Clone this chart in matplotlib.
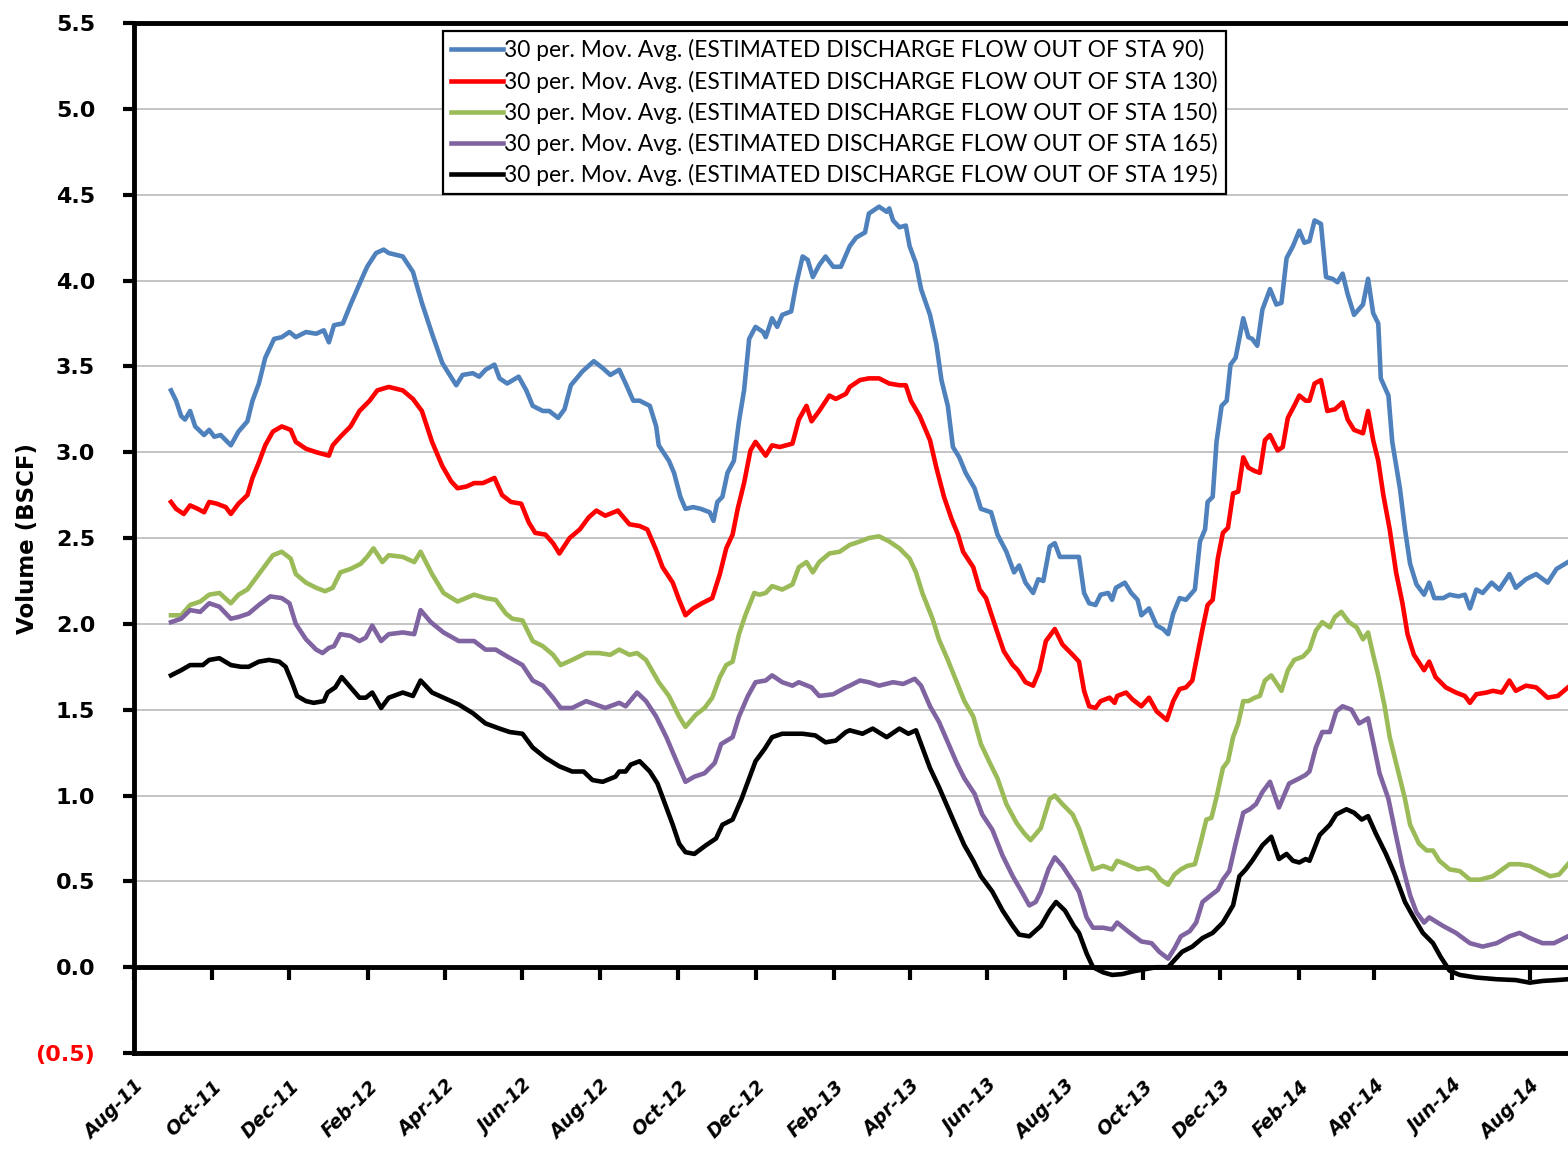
import numpy as np
import matplotlib
matplotlib.use("Agg")
import matplotlib.pyplot as plt
import matplotlib.dates as mdates

# x values are days counted from 1 Aug 2011
start = np.datetime64("2011-08-01")

sta90_days = [29, 33, 37, 40, 44, 48, 55, 59, 63, 68, 76, 82, 89, 93, 98, 103, 110, 116, 122, 127, 135, 143, 149, 153, 157, 164, 170, 177, 183, 190, 196,
              200, 211, 219, 226, 234, 242, 247, 253, 258, 266, 271, 276, 283, 287, 293, 302, 308, 313, 321, 326, 333, 338, 343, 352, 361, 368, 374,
              381, 386, 392, 397, 405, 410, 412, 420, 424, 429, 433, 439, 445, 452, 455, 458, 462, 466, 471, 475, 479, 483, 488, 494, 496, 501, 505, 509, 516, 520, 525, 529, 533, 538, 543, 549, 555,
              562, 567, 574, 577, 585, 591, 593, 596, 601, 606, 609, 614, 618, 625, 630, 634, 639, 643, 648, 653, 660, 665, 673, 678, 685, 691, 695, 700, 706, 710, 714, 719, 723, 727, 735,
              742, 746, 750, 755, 759, 765, 768, 771, 778, 783, 788, 791, 797, 803, 808, 812, 816, 821, 826, 833, 837, 841, 843, 847, 850, 854, 858, 861, 865, 871, 875, 878, 882, 886, 892, 897, 901, 905, 910, 915, 919,
              923, 927, 932, 936, 941, 945, 949, 953, 958, 965, 969, 973, 977, 979, 985, 988, 994, 998, 1002, 1007, 1013, 1017, 1021, 1028, 1033, 1040, 1045, 1049, 1054, 1059, 1066, 1072, 1080, 1085, 1093, 1101, 1110, 1117, 1126]
sta90_vals = [3.36, 3.30, 3.21, 3.19, 3.24, 3.15, 3.10, 3.13, 3.09, 3.10, 3.04, 3.12, 3.18, 3.30, 3.40, 3.55, 3.66, 3.67, 3.70, 3.67, 3.70, 3.69, 3.71, 3.64, 3.74, 3.75, 3.86, 3.98, 4.08, 4.16, 4.18,
              4.16, 4.14, 4.05, 3.87, 3.69, 3.52, 3.46, 3.39, 3.45, 3.46, 3.44, 3.48, 3.51, 3.43, 3.40, 3.44, 3.36, 3.27, 3.24, 3.24, 3.20, 3.25, 3.39, 3.47, 3.53, 3.49, 3.45,
              3.48, 3.40, 3.30, 3.30, 3.27, 3.15, 3.04, 2.95, 2.88, 2.74, 2.67, 2.68, 2.67, 2.65, 2.60, 2.71, 2.74, 2.88, 2.95, 3.18, 3.36, 3.66, 3.73, 3.70, 3.67, 3.78, 3.73, 3.80, 3.82, 3.98, 4.14, 4.12, 4.02, 4.09, 4.14, 4.08, 4.08,
              4.20, 4.25, 4.28, 4.39, 4.43, 4.40, 4.42, 4.35, 4.31, 4.32, 4.20, 4.10, 3.95, 3.80, 3.63, 3.42, 3.27, 3.03, 2.97, 2.88, 2.79, 2.67, 2.65, 2.52, 2.42, 2.30, 2.34, 2.24, 2.18, 2.26, 2.25, 2.45, 2.47, 2.39, 2.39,
              2.39, 2.18, 2.12, 2.11, 2.17, 2.18, 2.14, 2.21, 2.24, 2.18, 2.14, 2.05, 2.09, 1.99, 1.97, 1.94, 2.06, 2.15, 2.14, 2.20, 2.48, 2.55, 2.71, 2.74, 3.06, 3.27, 3.30, 3.51, 3.55, 3.78, 3.67, 3.66, 3.62, 3.83, 3.95, 3.86, 3.87, 4.13, 4.20, 4.29, 4.22,
              4.23, 4.35, 4.33, 4.02, 4.01, 3.99, 4.04, 3.92, 3.80, 3.86, 4.01, 3.81, 3.75, 3.43, 3.33, 3.06, 2.79, 2.55, 2.35, 2.23, 2.17, 2.24, 2.15, 2.15, 2.17, 2.16, 2.17, 2.09, 2.20, 2.18, 2.24, 2.20, 2.29, 2.21, 2.26, 2.29, 2.24, 2.32, 2.36]

sta130_days = [29, 33, 39, 44, 50, 55, 59, 65, 72, 76, 82, 89, 93, 98, 103, 109, 116, 123, 127, 135, 143, 148, 153, 156, 162, 170, 177, 185, 191,
               200, 211, 219, 226, 234, 242, 249, 254, 261, 267, 274, 283, 289, 296, 304, 310, 315, 323, 329, 334, 342, 350, 357, 363, 370, 380,
               381, 389, 397, 403, 410, 415, 423, 428, 433, 439, 446, 454, 460, 465, 470, 474, 479, 484, 488, 496, 501, 507, 517, 522, 528, 532, 538, 546, 551, 559,
               562, 570, 577, 585, 593, 601, 606, 610, 617, 625, 630, 636, 642, 647, 651, 659, 664, 669, 677, 683, 690, 694, 700, 706, 711, 716, 723, 729, 737,
               742, 746, 750, 755, 759, 766, 770, 772, 779, 784, 791, 797, 803, 811, 816, 821, 826, 831, 835, 839, 843, 847, 851, 855, 859, 863, 867, 871, 875, 880, 884, 888, 892, 898, 902, 906, 911, 915, 920,
               923, 927, 932, 937, 943, 949, 953, 958, 965, 969, 973, 977, 981, 986, 991, 996, 1000, 1005, 1013, 1017, 1022, 1030, 1038, 1045, 1049, 1054, 1062, 1067, 1074, 1080, 1085, 1093, 1101, 1110, 1118, 1126]
sta130_vals = [2.71, 2.67, 2.64, 2.69, 2.67, 2.65, 2.71, 2.70, 2.68, 2.64, 2.70, 2.75, 2.85, 2.94, 3.04, 3.12, 3.15, 3.13, 3.06, 3.02, 3.00, 2.99, 2.98, 3.04, 3.09, 3.15, 3.24, 3.30, 3.36,
               3.38, 3.36, 3.31, 3.24, 3.06, 2.92, 2.83, 2.79, 2.80, 2.82, 2.82, 2.85, 2.75, 2.71, 2.70, 2.59, 2.53, 2.52, 2.47, 2.41, 2.50, 2.55, 2.62, 2.66, 2.63, 2.66,
               2.65, 2.58, 2.57, 2.55, 2.43, 2.33, 2.24, 2.14, 2.05, 2.09, 2.12, 2.15, 2.29, 2.44, 2.52, 2.67, 2.82, 3.01, 3.06, 2.98, 3.04, 3.03, 3.05, 3.19, 3.27, 3.18, 3.24, 3.33, 3.31, 3.34,
               3.38, 3.42, 3.43, 3.43, 3.40, 3.39, 3.39, 3.30, 3.21, 3.07, 2.91, 2.74, 2.61, 2.52, 2.42, 2.33, 2.20, 2.15, 1.97, 1.84, 1.76, 1.73, 1.66, 1.64, 1.73, 1.90, 1.97, 1.88, 1.82,
               1.78, 1.61, 1.52, 1.51, 1.55, 1.57, 1.54, 1.58, 1.60, 1.56, 1.52, 1.57, 1.49, 1.44, 1.55, 1.62, 1.63, 1.67, 1.82, 1.97, 2.11, 2.14, 2.38, 2.53, 2.56, 2.76, 2.77, 2.97, 2.91, 2.89, 2.88, 3.07, 3.10, 3.01, 3.03, 3.20, 3.27, 3.33, 3.30,
               3.30, 3.40, 3.42, 3.24, 3.25, 3.29, 3.19, 3.13, 3.11, 3.24, 3.07, 2.95, 2.75, 2.55, 2.30, 2.12, 1.94, 1.82, 1.73, 1.78, 1.69, 1.63, 1.60, 1.58, 1.54, 1.59, 1.60, 1.61, 1.60, 1.67, 1.61, 1.64, 1.63, 1.57, 1.58, 1.63]

sta150_days = [29, 37, 44, 52, 59, 67, 76, 82, 89, 96, 102, 109, 116, 123, 127, 135, 143, 150, 156, 162, 170, 178, 183, 188, 195,
               200, 211, 220, 225, 234, 243, 254, 267, 276, 284, 292, 297, 305, 313, 321, 329, 335, 344, 355, 365, 374,
               381, 389, 395, 402, 412, 420, 428, 433, 441, 448, 454, 460, 465, 470, 475, 480, 487, 491, 496, 501, 509, 517, 522, 528, 533, 538, 546, 554,
               562, 570, 577, 585, 593, 601, 609, 614, 619, 627, 632, 639, 646, 652, 659, 665, 672, 678, 685, 693, 699, 704, 712, 719, 723, 729, 737,
               742, 748, 753, 761, 768, 772, 779, 788, 796, 801, 806, 812, 817, 822, 827, 833, 837, 842, 846, 850, 855, 859, 863, 867, 871, 875, 880, 884, 888, 893, 901, 906, 911, 918,
               923, 928, 933, 939, 943, 948, 954, 960, 965, 969, 973, 977, 982, 986, 992, 998, 1002, 1009, 1015, 1020, 1025, 1033, 1041, 1049, 1057, 1067, 1080, 1088, 1096, 1104, 1112, 1119, 1126]
sta150_vals = [2.05, 2.05, 2.11, 2.13, 2.17, 2.18, 2.12, 2.17, 2.20, 2.27, 2.33, 2.40, 2.42, 2.38, 2.29, 2.24, 2.21, 2.19, 2.21, 2.30, 2.32, 2.35, 2.39, 2.44, 2.36,
               2.40, 2.39, 2.36, 2.42, 2.29, 2.18, 2.13, 2.17, 2.15, 2.14, 2.06, 2.03, 2.02, 1.90, 1.87, 1.82, 1.76, 1.79, 1.83, 1.83, 1.82,
               1.85, 1.82, 1.83, 1.79, 1.66, 1.58, 1.46, 1.40, 1.47, 1.51, 1.57, 1.69, 1.76, 1.78, 1.94, 2.05, 2.18, 2.17, 2.18, 2.22, 2.20, 2.23, 2.33, 2.36, 2.30, 2.36, 2.41, 2.42,
               2.46, 2.48, 2.50, 2.51, 2.48, 2.44, 2.38, 2.30, 2.18, 2.03, 1.91, 1.79, 1.66, 1.55, 1.46, 1.30, 1.19, 1.10, 0.95, 0.84, 0.78, 0.74, 0.81, 0.98, 1.00, 0.95, 0.89,
               0.81, 0.68, 0.57, 0.59, 0.57, 0.62, 0.60, 0.57, 0.58, 0.56, 0.51, 0.48, 0.54, 0.57, 0.59, 0.60, 0.71, 0.86, 0.87, 0.99, 1.16, 1.20, 1.34, 1.42, 1.55, 1.55, 1.57, 1.58, 1.67, 1.70, 1.61, 1.73, 1.79, 1.81,
               1.85, 1.96, 2.01, 1.98, 2.04, 2.07, 2.01, 1.98, 1.91, 1.95, 1.82, 1.70, 1.52, 1.34, 1.16, 0.98, 0.83, 0.72, 0.68, 0.68, 0.62, 0.57, 0.56, 0.51, 0.51, 0.53, 0.60, 0.60, 0.59, 0.56, 0.53, 0.54, 0.60]

sta165_days = [29, 37, 44, 52, 59, 67, 76, 82, 90, 98, 107, 116, 122, 127, 135, 143, 148, 153, 157, 162, 170, 177, 182, 187, 194,
               200, 211, 220, 225, 233, 243, 255, 267, 276, 284, 293, 305, 313, 321, 329, 335, 344, 355, 370,
               381, 386, 395, 402, 410, 418, 426, 433, 440, 448, 456, 461, 470, 475, 482, 488, 496, 501, 509, 517, 522, 532, 538, 549, 559,
               562, 570, 577, 585, 596, 604, 613, 618, 625, 632, 639, 646, 652, 660, 666, 674, 682, 690, 697, 703, 708, 712, 718, 723, 729, 737,
               742, 748, 753, 761, 768, 772, 782, 791, 799, 805, 812, 817, 822, 829, 834, 839, 844, 851, 855, 860, 865, 871, 876, 881, 886, 892, 899, 907, 915, 920,
               923, 928, 933, 939, 944, 949, 956, 962, 969, 973, 978, 985, 990, 996, 1002, 1007, 1013, 1017, 1028, 1038, 1049, 1059, 1070, 1080, 1088, 1096, 1106, 1115, 1126]
sta165_vals = [2.01, 2.03, 2.08, 2.07, 2.12, 2.10, 2.03, 2.04, 2.06, 2.11, 2.16, 2.15, 2.12, 2.00, 1.91, 1.85, 1.83, 1.86, 1.87, 1.94, 1.93, 1.90, 1.92, 1.99, 1.90,
               1.94, 1.95, 1.94, 2.08, 2.01, 1.95, 1.90, 1.90, 1.85, 1.85, 1.81, 1.76, 1.67, 1.64, 1.57, 1.51, 1.51, 1.55, 1.51,
               1.54, 1.52, 1.60, 1.55, 1.46, 1.34, 1.20, 1.08, 1.11, 1.13, 1.19, 1.30, 1.34, 1.46, 1.58, 1.66, 1.67, 1.70, 1.66, 1.64, 1.66, 1.63, 1.58, 1.59, 1.63,
               1.64, 1.67, 1.66, 1.64, 1.66, 1.65, 1.68, 1.64, 1.52, 1.43, 1.31, 1.19, 1.10, 1.01, 0.89, 0.80, 0.65, 0.53, 0.44, 0.36, 0.38, 0.44, 0.57, 0.64, 0.59, 0.50,
               0.44, 0.29, 0.23, 0.23, 0.22, 0.26, 0.20, 0.15, 0.14, 0.09, 0.05, 0.11, 0.18, 0.21, 0.26, 0.38, 0.41, 0.45, 0.51, 0.56, 0.72, 0.90, 0.92, 0.95, 1.02, 1.08, 0.93, 1.07, 1.10, 1.12,
               1.14, 1.28, 1.37, 1.37, 1.49, 1.52, 1.50, 1.42, 1.45, 1.31, 1.13, 0.98, 0.80, 0.59, 0.42, 0.32, 0.26, 0.29, 0.24, 0.20, 0.14, 0.12, 0.14, 0.18, 0.20, 0.17, 0.14, 0.14, 0.18]

sta195_days = [29, 37, 44, 54, 59, 67, 76, 84, 90, 98, 106, 114, 119, 124, 128, 135, 141, 149, 152, 158, 163, 170, 177, 182, 187, 194,
               200, 211, 219, 225, 234, 243, 255, 266, 276, 287, 295, 305, 313, 323, 334, 344, 353, 360, 368, 378,
               381, 386, 390, 397, 405, 411, 418, 423, 428, 433, 440, 449, 457, 462, 470, 477, 482, 488, 495, 501, 509, 517, 525, 535, 543, 551, 559,
               562, 572, 580, 591, 601, 608, 614, 619, 625, 632, 639, 646, 652, 659, 665, 674, 682, 690, 695, 703, 712, 719, 724, 731, 738,
               742, 748, 753, 761, 768, 776, 784, 795, 803, 812, 818, 823, 831, 839, 847, 855, 863, 868, 873, 878, 886, 893, 899, 905, 910, 915, 920,
               923, 931, 939, 944, 952, 958, 964, 969, 975, 983, 990, 998, 1004, 1012, 1020, 1026, 1033, 1041, 1054, 1070, 1085, 1096, 1106, 1117, 1126]
sta195_vals = [1.70, 1.73, 1.76, 1.76, 1.79, 1.80, 1.76, 1.75, 1.75, 1.78, 1.79, 1.78, 1.75, 1.66, 1.58, 1.55, 1.54, 1.55, 1.60, 1.63, 1.69, 1.63, 1.57, 1.57, 1.60, 1.51,
               1.57, 1.60, 1.58, 1.67, 1.60, 1.57, 1.53, 1.48, 1.42, 1.39, 1.37, 1.36, 1.28, 1.22, 1.17, 1.14, 1.14, 1.09, 1.08, 1.11,
               1.14, 1.14, 1.18, 1.20, 1.14, 1.07, 0.93, 0.83, 0.72, 0.67, 0.66, 0.71, 0.75, 0.83, 0.86, 0.98, 1.08, 1.20, 1.27, 1.34, 1.36, 1.36, 1.36, 1.35, 1.31, 1.32, 1.37,
               1.38, 1.36, 1.39, 1.34, 1.39, 1.36, 1.38, 1.28, 1.16, 1.05, 0.93, 0.81, 0.71, 0.62, 0.53, 0.44, 0.33, 0.24, 0.19, 0.18, 0.24, 0.33, 0.38, 0.33, 0.24,
               0.20, 0.08, 0.00, -0.03, -0.045, -0.04, -0.025, -0.01, 0.00, 0.00, 0.05, 0.09, 0.12, 0.17, 0.20, 0.26, 0.36, 0.53, 0.57, 0.62, 0.71, 0.76, 0.63, 0.66, 0.62, 0.61, 0.63,
               0.62, 0.77, 0.83, 0.89, 0.92, 0.90, 0.86, 0.88, 0.78, 0.66, 0.54, 0.38, 0.30, 0.20, 0.14, 0.06, -0.02, -0.045, -0.06, -0.07, -0.075, -0.09, -0.08, -0.075, -0.07]

labels = ["30 per. Mov. Avg. (ESTIMATED DISCHARGE FLOW OUT OF STA 90)",
          "30 per. Mov. Avg. (ESTIMATED DISCHARGE FLOW OUT OF STA 130)",
          "30 per. Mov. Avg. (ESTIMATED DISCHARGE FLOW OUT OF STA 150)",
          "30 per. Mov. Avg. (ESTIMATED DISCHARGE FLOW OUT OF STA 165)",
          "30 per. Mov. Avg. (ESTIMATED DISCHARGE FLOW OUT OF STA 195)"]
colors = ["#4f81bd", "#ff0000", "#9bbb59", "#8064a2", "#000000"]

plt.rcParams["font.family"] = ["Lato", "DejaVu Sans"]
bold_font = ["DejaVu Sans"]

fig = plt.figure(figsize=(15.68, 11.5), dpi=100)
ax = fig.add_axes([0.0855, 0.0843, 0.9145, 0.8957])

series = [(sta90_days, sta90_vals), (sta130_days, sta130_vals), (sta150_days, sta150_vals),
          (sta165_days, sta165_vals), (sta195_days, sta195_vals)]
for (d, v), c, lab in zip(series, colors, labels):
    dates = start + np.array(d, dtype="timedelta64[D]")
    ax.plot(dates, v, color=c, lw=3.3, label=lab, solid_joinstyle="round", zorder=3)

ax.set_xlim(start, start + np.timedelta64(1126, "D"))
ax.set_ylim(-0.5, 5.5)

# y axis
yt = np.arange(-0.5, 5.51, 0.5)
ax.set_yticks(yt)
ax.set_yticklabels(["(%.1f)" % abs(t) if t < 0 else "%.1f" % t for t in yt],
                   fontsize=16, fontweight="bold", family=bold_font)
ax.get_yticklabels()[0].set_color("red")
ax.tick_params(axis="y", direction="out", length=8, width=3, pad=20)
ax.grid(axis="y", color="#bfbfbf", lw=1.3)
ax.set_axisbelow(True)
ax.set_ylabel("Volume (BSCF)", fontsize=16.5, fontweight="bold", family=bold_font)
ax.yaxis.set_label_coords(-0.066, 0.5)

# x axis: labels at the bottom, tick marks on the zero line
ax.xaxis.set_major_locator(mdates.MonthLocator(bymonth=[2, 4, 6, 8, 10, 12]))
ax.xaxis.set_major_formatter(mdates.DateFormatter("%b-%y"))
ax.tick_params(axis="x", length=0, pad=17)
for lab in ax.get_xticklabels():
    lab.set_rotation(45)
    lab.set_ha("right")
    lab.set_va("top")
    lab.set_rotation_mode("anchor")
    lab.set_fontsize(13.5)
    lab.set_fontweight("bold")
    lab.set_fontstyle("italic")
    lab.set_family(bold_font)

ax.axhline(0, color="black", lw=3.5, zorder=2)
zero = ax.secondary_xaxis(0.5 / 6.0)
zero.xaxis.set_major_locator(mdates.MonthLocator(bymonth=[2, 4, 6, 8, 10, 12]))
zero.tick_params(axis="x", direction="out", length=9, width=3, labelbottom=False)
zero.spines["bottom"].set_visible(False)

for s in ["left", "top", "bottom"]:
    ax.spines[s].set_linewidth(3.5)
ax.spines["right"].set_visible(False)

leg = ax.legend(loc="upper center", bbox_to_anchor=(0.4885, 0.992), fontsize=16.4,
                handlelength=2.3, handletextpad=0.05, labelspacing=0.4, borderpad=0.35,
                borderaxespad=0, fancybox=False, framealpha=1, edgecolor="black")
leg.get_frame().set_linewidth(1.6)

fig.savefig("out.png", dpi=100)
